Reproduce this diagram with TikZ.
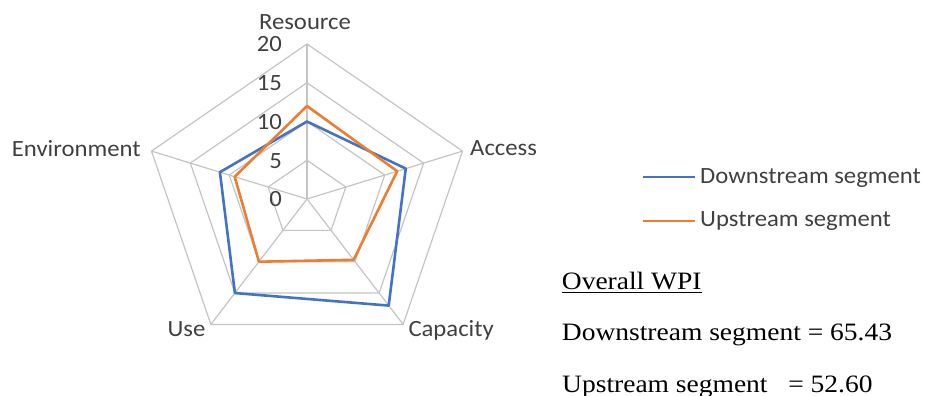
\documentclass[tikz,border=0pt]{standalone}
\usepackage{fontspec}
\newfontfamily\labfont[FakeStretch=1.06]{Carlito}
\newfontfamily\wpifont[FakeStretch=1.1]{Liberation Serif}
\definecolor{dsblue}{HTML}{4472C4}
\definecolor{usorange}{HTML}{ED7D31}
\definecolor{gridgray}{HTML}{C4C4C4}
\definecolor{labgray}{HTML}{404040}
\begin{document}
\begin{tikzpicture}[x=1pt,y=-1pt,
  gridline/.style={draw=gridgray,line width=1.2pt},
  series/.style={line width=2.6pt,line join=round},
  axislab/.style={inner sep=0pt,text=labgray,font=\labfont\fontsize{23.3}{28}\selectfont},
  ticklab/.style={inner sep=0pt,anchor=base east,text=labgray,font=\labfont\fontsize{23.3}{28}\selectfont},
  legline/.style={line width=2.4pt},
  wpitext/.style={inner sep=0pt,anchor=base west,text=black,font=\wpifont\fontsize{25}{30}\selectfont}]
\useasboundingbox (0,0) rectangle (926,396);
% radar chart
\begin{scope}[shift={(307,199)},xscale=1.055]
  \coordinate (ctr) at (0,0);
  \foreach \k in {1,2,3,4}{
    \pgfmathsetmacro{\r}{38.75*\k}
    \draw[gridline] (-90:\r) -- (-18:\r) -- (54:\r) -- (126:\r) -- (-162:\r) -- cycle;
  }
  \coordinate (vRes) at (-90:155);
  \coordinate (vAcc) at (-18:155);
  \coordinate (vCap) at (54:155);
  \coordinate (vUse) at (126:155);
  \coordinate (vEnv) at (-162:155);
  \foreach \v in {vRes,vAcc,vCap,vUse,vEnv}{
    \draw[gridline] (ctr) -- (\v);
  }
  % Downstream segment
  \draw[series,dsblue] (-90:10*7.75) -- (-18:12.7*7.75) -- (54:17*7.75) -- (126:15*7.75) -- (-162:11.2*7.75) -- cycle;
  % Upstream segment
  \draw[series,usorange] (-90:12*7.75) -- (-18:11.6*7.75) -- (54:9.7*7.75) -- (126:10*7.75) -- (-162:9.3*7.75) -- cycle;
\end{scope}
% tick labels
\node[ticklab] (t20) at (282,51.8) {20};
\node[ticklab] (t15) at (282,90.6) {15};
\node[ticklab] (t10) at (282,129.3) {10};
\node[ticklab] (t5) at (282,168.1) {5};
\node[ticklab] (t0) at (282,206.8) {0};
% axis labels
\node[axislab,anchor=base] (lRes) at (305,29.3) {Resource};
\node[axislab,anchor=base west] (lEnv) at (11.7,156) {Environment};
\node[axislab,anchor=base west] (lAcc) at (470,155.5) {Access};
\node[axislab,anchor=base west] (lUse) at (167.3,336) {Use};
\node[axislab,anchor=base west] (lCap) at (408.3,336) {Capacity};
% legend
\coordinate (lgBa) at (643,177);
\coordinate (lgBb) at (695,177);
\coordinate (lgOa) at (643,221);
\coordinate (lgOb) at (695,221);
\draw[legline,dsblue] (lgBa) -- (lgBb);
\draw[legline,usorange] (lgOa) -- (lgOb);
\node[axislab,anchor=base west] (lgB) at (700,183.3) {Downstream segment};
\node[axislab,anchor=base west] (lgO) at (700,226.7) {Upstream segment};
% overall WPI
\node[wpitext] (owpi) at (561.7,289) {Overall WPI};
\draw[line width=1.3pt] ([yshift=-3.7pt]owpi.base west) -- ([yshift=-3.7pt]owpi.base east);
\node[wpitext] (wds) at (561.7,340) {Downstream segment = 65.43};
\node[wpitext] (wus) at (562,392.3) {Upstream segment~~~= 52.60};
\end{tikzpicture}
\end{document}
